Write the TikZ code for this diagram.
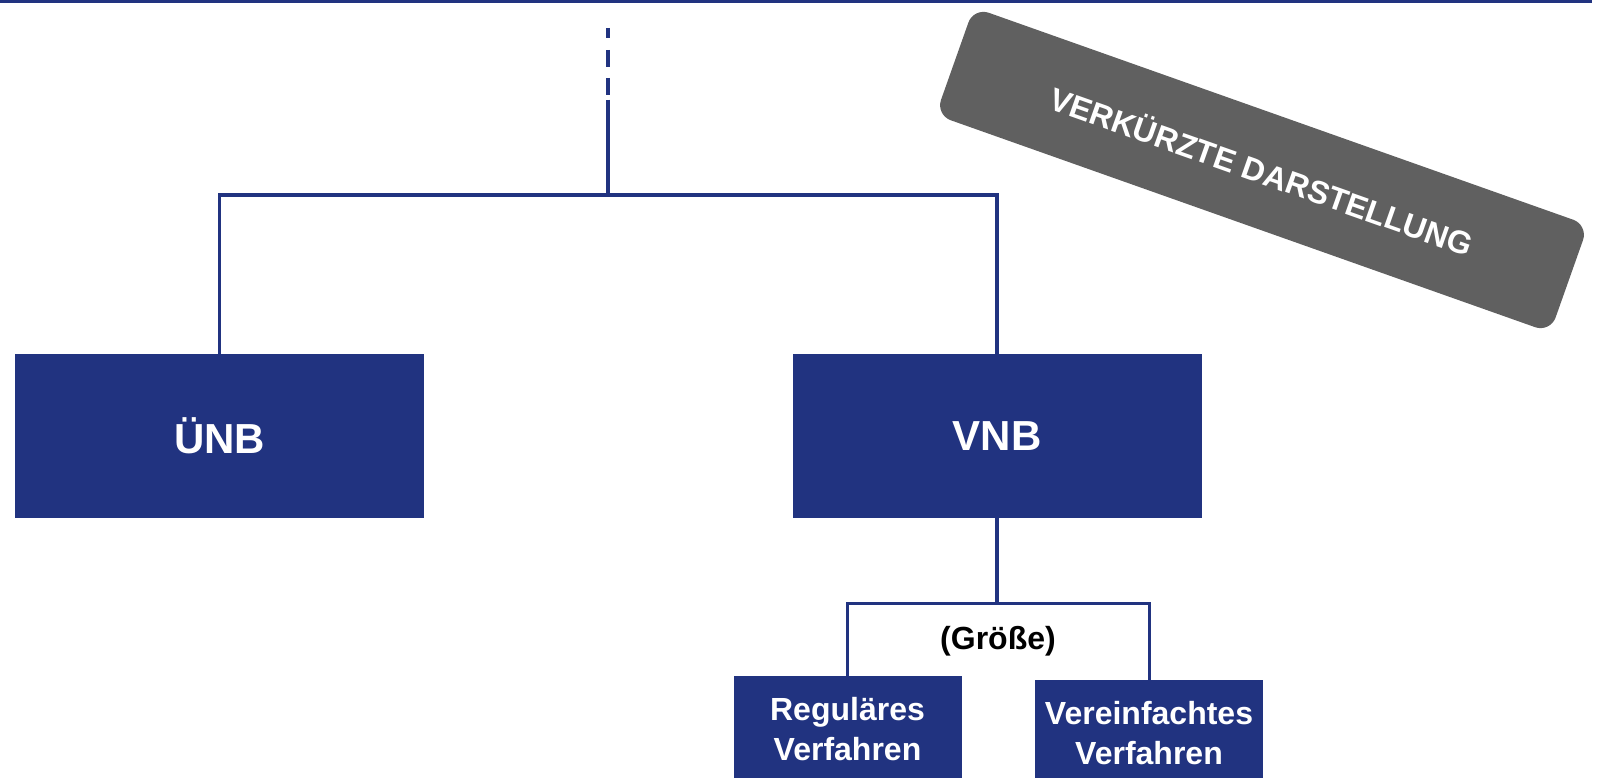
\documentclass[tikz,border=0pt]{standalone}
\usepackage{fontspec}
\setmainfont{Liberation Sans}
\usepackage{tikz}
\usetikzlibrary{positioning}
\definecolor{netzblau}{HTML}{213380}
\definecolor{hinweisgrau}{HTML}{606060}

\begin{document}
\begin{tikzpicture}
      [x=1pt,y=1pt,
      link/.style={draw=netzblau,line width=3.6pt},
      bigbox/.style={shape=rectangle,fill=netzblau,text=white,inner sep=0pt,
        minimum width=409pt,minimum height=164pt,font=\fontsize{42}{50}\selectfont\bfseries},
      smallbox/.style={shape=rectangle,fill=netzblau,text=white,inner sep=0pt,align=center,
        minimum width=228pt,minimum height=106pt,font=\fontsize{32}{40}\selectfont\bfseries},
      banner/.style={shape=rectangle,fill=hinweisgrau,text=white,rounded corners=16pt,
        minimum width=652pt,minimum height=114pt,font=\fontsize{32}{38}\selectfont\bfseries}]
\useasboundingbox (0,0) rectangle (1598,-778);
\draw[netzblau,line width=2.6pt] (0,-1.3) -- (1592,-1.3);

\node[bigbox] (uenb) at (219.5,-436) {ÜNB};
\node[bigbox] (vnb) at (997,-436) {VNB};
\node[smallbox] (regulaer) at (847.5,-729) {Reguläres\\Verfahren};
\node[smallbox] (vereinfacht) at (1149,-733) {Vereinfachtes\\Verfahren};
\node[font=\fontsize{32}{38}\selectfont\bfseries] (groesse) at (998,-641) {(Größe)};
\node[banner,rotate=-19.5] (hinweis) at (1262,-170) {VERKÜRZTE DARSTELLUNG};

\coordinate (wurzel) at (608,-28);
\coordinate (stamm) at (608,-100);
\coordinate (abzweig) at (608,-195);
\coordinate (groessenabzweig) at (997,-603);

\draw[link,dash pattern=on 10pt off 12pt on 17pt off 11pt on 17pt off 5pt] (wurzel) -- (stamm);
\draw[link] (stamm) -- (abzweig);
\draw[link] (uenb.north) |- (abzweig) -| (vnb.north);
\draw[link] (vnb.south) -- (groessenabzweig);
\draw[link,line width=3pt] (regulaer.north) |- (groessenabzweig) -| (vereinfacht.north);
\end{tikzpicture}
\end{document}
